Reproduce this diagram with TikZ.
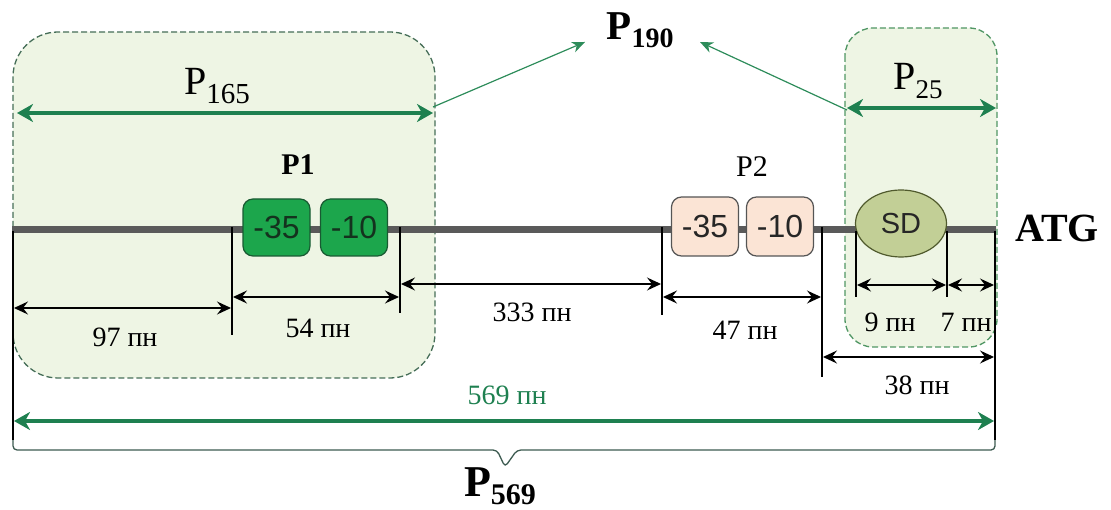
\documentclass[tikz,border=0pt]{standalone}
\usepackage{fontspec}
\setmainfont{Liberation Serif}
\newfontfamily\arialf{Liberation Sans}
\usetikzlibrary{arrows.meta,shapes.geometric}
\definecolor{regfill}{RGB}{238,245,228}
\definecolor{regdraw}{RGB}{70,110,88}
\definecolor{regdrawb}{RGB}{80,150,100}
\definecolor{thickgreen}{RGB}{30,128,80}
\definecolor{thingreen}{RGB}{45,140,90}
\definecolor{dnagray}{RGB}{90,90,90}
\definecolor{boxgreen}{RGB}{28,166,76}
\definecolor{boxgreendraw}{RGB}{25,90,50}
\definecolor{boxtext}{RGB}{20,50,30}
\definecolor{peach}{RGB}{251,228,213}
\definecolor{peachdraw}{RGB}{85,85,85}
\definecolor{sdfill}{RGB}{194,207,150}
\definecolor{sddraw}{RGB}{80,90,45}
\definecolor{bracketc}{RGB}{60,90,80}
\newcommand\myfs[1]{\fontsize{#1}{#1}\selectfont}
\tikzset{
  region/.style={draw=regdraw, dash pattern=on 6pt off 3pt, fill=regfill, line width=1.3pt},
  dimarrow/.style={black, line width=1.2pt, {Stealth[length=14pt,width=13pt,inset=5pt]}-{Stealth[length=14pt,width=13pt,inset=5pt]}},
  bigarrow/.style={thickgreen, line width=4.5pt, {Stealth[length=16pt,width=18pt,inset=5pt]}-{Stealth[length=16pt,width=18pt,inset=5pt]}},
  pointer/.style={thingreen, line width=1.2pt, -{Stealth[length=13pt,width=11pt,inset=4pt]}},
  tick/.style={black, line width=1.1pt},
  dimlabel/.style={inner sep=0pt, anchor=base, font=\myfs{28}},
  gbox/.style={draw=boxgreendraw, fill=boxgreen, text=boxtext, line width=1.2pt, rounded corners=10pt, minimum width=67pt, minimum height=57pt, inner sep=0pt, font=\arialf\myfs{32}},
  pbox/.style={draw=peachdraw, fill=peach, text=black!85, line width=1.2pt, rounded corners=10pt, minimum width=67pt, minimum height=59pt, inner sep=0pt, font=\arialf\myfs{32}},
}
\begin{document}
\begin{tikzpicture}[x=1pt,y=-1pt]
\useasboundingbox (0,0) rectangle (1111,510);
% shaded regions
\draw[region, rounded corners=45pt] (13,32) rectangle (435,378);
\draw[region, draw=regdrawb, rounded corners=28pt] (845,28) rectangle (997,347);
% DNA line
\coordinate (dnaL) at (12,230);
\coordinate (dnaR) at (996,230);
\draw[dnagray, line width=7pt] (dnaL) -- (dnaR);
% boxes
\node[gbox] (g35) at (276.5,227.5) {-35};
\node[gbox] (g10) at (354,227.5) {-10};
\node[pbox] (p35) at (705,226.5) {-35};
\node[pbox] (p10) at (780,226.5) {-10};
\node[ellipse, draw=sddraw, fill=sdfill, text=black!85, line width=1.2pt, minimum width=91pt, minimum height=67pt, inner sep=0pt, font=\arialf\myfs{29}] (sd) at (901,223.5) {SD};
% labels
\node[inner sep=0pt, anchor=base, font=\bfseries\myfs{30}] (p1) at (298,175) {P1};
\node[inner sep=0pt, anchor=base, font=\myfs{30}] (p2) at (752,177) {P2};
\node[inner sep=0pt, anchor=base, font=\bfseries\myfs{40}] (atg) at (1057,242) {ATG};
\node[inner sep=0pt, anchor=base, font=\myfs{40}] (p165) at (217,95) {P\raisebox{-9pt}{\myfs{29}165}};
\node[inner sep=0pt, anchor=base, font=\myfs{40}] (p25) at (918,90) {P\raisebox{-9pt}{\myfs{27}25}};
\node[inner sep=0pt, anchor=base, font=\bfseries\myfs{41}] (p190) at (640,40) {P\raisebox{-8pt}{\myfs{28}190}};
\node[inner sep=0pt, anchor=base, font=\bfseries\myfs{44}] (p569) at (500,496) {P\raisebox{-8pt}{\myfs{30}569}};
% region arrows
\coordinate (r165l) at (17,113);
\coordinate (r165r) at (433,113);
\draw[bigarrow] (r165l) -- (r165r);
\coordinate (r25l) at (847,108);
\coordinate (r25r) at (996,108);
\draw[bigarrow] (r25l) -- (r25r);
\coordinate (ptrA) at (433,107);
\coordinate (ptrB) at (847,110);
\coordinate (ptA) at (585,42);
\coordinate (ptB) at (700,42);
\draw[pointer] (ptrA) -- (ptA);
\draw[pointer] (ptrB) -- (ptB);
% ticks
\coordinate (t1a) at (232,227); \coordinate (t1b) at (232,335);
\coordinate (t2a) at (400,227); \coordinate (t2b) at (400,313);
\coordinate (t3a) at (662,227); \coordinate (t3b) at (662,315);
\coordinate (t4a) at (822,227); \coordinate (t4b) at (822,377);
\coordinate (t5a) at (856,231); \coordinate (t5b) at (856,297);
\coordinate (t6a) at (947,231); \coordinate (t6b) at (947,297);
\coordinate (t0a) at (13,231); \coordinate (t0b) at (13,440);
\coordinate (t7a) at (995,231); \coordinate (t7b) at (995,440);
\foreach \t in {0,1,2,3,4,5,6,7} \draw[tick] (t\t a) -- (t\t b);
% bracket
\coordinate (brL) at (13,440);
\coordinate (brR) at (995,440);
\coordinate (brTip) at (505,467);
\draw[bracketc, line width=1.3pt, rounded corners=4pt] (brL) -- (13,450) -- (497,450) -- (brTip) -- (517,450) -- (995,450) -- (brR);
% dimension arrows
\coordinate (d97l) at (14,308); \coordinate (d97r) at (231,308);
\draw[dimarrow] (d97l) -- (d97r);
\coordinate (d54l) at (233,297); \coordinate (d54r) at (399,297);
\draw[dimarrow] (d54l) -- (d54r);
\coordinate (d333l) at (401,284); \coordinate (d333r) at (661,284);
\draw[dimarrow] (d333l) -- (d333r);
\coordinate (d47l) at (663,297); \coordinate (d47r) at (821,297);
\draw[dimarrow] (d47l) -- (d47r);
\coordinate (d9l) at (857,285); \coordinate (d9r) at (946,285);
\draw[dimarrow] (d9l) -- (d9r);
\coordinate (d7l) at (948,285); \coordinate (d7r) at (994,285);
\draw[dimarrow] (d7l) -- (d7r);
\coordinate (d38l) at (823,357); \coordinate (d38r) at (994,357);
\draw[dimarrow] (d38l) -- (d38r);
\coordinate (d569l) at (14,421); \coordinate (d569r) at (994,421);
\draw[bigarrow, line width=4pt] (d569l) -- (d569r);
% dimension labels
\node[dimlabel] (l97) at (125,347) {97 пн};
\node[dimlabel] (l54) at (318,338) {54 пн};
\node[dimlabel] (l333) at (532,322) {333 пн};
\node[dimlabel] (l47) at (745,340) {47 пн};
\node[dimlabel] (l9) at (890,332) {9 пн};
\node[dimlabel] (l7) at (966,332) {7 пн};
\node[dimlabel] (l38) at (917,395) {38 пн};
\node[dimlabel, text=thickgreen] (l569) at (507,405) {569 пн};
\end{tikzpicture}
\end{document}
